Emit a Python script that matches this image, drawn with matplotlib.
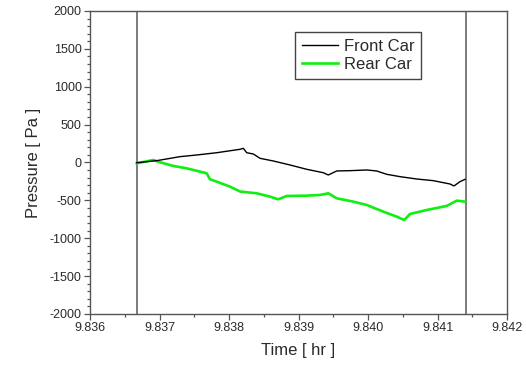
import matplotlib
matplotlib.use('Agg')
import matplotlib.pyplot as plt
from matplotlib.ticker import MultipleLocator, FormatStrFormatter

# Front car pressure trace
front_t = [9.836672, 9.836960, 9.837295, 9.837535, 9.837823, 9.838158, 9.838206,
           9.838255, 9.838350, 9.838446, 9.838637, 9.838878, 9.839118, 9.839357,
           9.839429, 9.839550, 9.839741, 9.839981, 9.840125, 9.840269, 9.840460,
           9.840701, 9.840940, 9.841180, 9.841237, 9.841324, 9.841396]
front_p = [-3, 24, 77, 99, 129, 174, 187,
           129, 112, 55, 20, -33, -90, -135,
           -165, -112, -108, -99, -112, -156, -187,
           -218, -240, -284, -310, -253, -222]

# Rear car pressure trace
rear_t = [9.836672, 9.836911, 9.837007, 9.837199, 9.837391, 9.837583, 9.837679,
          9.837727, 9.837823, 9.838014, 9.838158, 9.838399, 9.838590, 9.838709,
          9.838830, 9.839118, 9.839309, 9.839429, 9.839550, 9.839789, 9.839981,
          9.840220, 9.840413, 9.840522, 9.840604, 9.840845, 9.841132, 9.841276,
          9.841396]
rear_p = [-11, 33, 3, -46, -77, -121, -143,
          -222, -253, -319, -383, -407, -451, -486,
          -442, -438, -429, -407, -473, -517, -561,
          -649, -715, -759, -680, -627, -574, -504,
          -517]

# window markers
marker_t = [9.83667, 9.84141]

plt.rcParams['font.family'] = ['Liberation Sans', 'DejaVu Sans']
plt.rcParams['axes.unicode_minus'] = False
text_col = '#2a2a2a'
axis_col = '#555555'

fig = plt.figure(figsize=(5.26, 3.70), dpi=100)
ax = fig.add_axes([0.1711, 0.1514, 0.7928, 0.8189])

for t in marker_t:
    ax.axvline(t, color='#666666', lw=1.2, zorder=1)

ax.plot(front_t, front_p, color='black', lw=1.0, label='Front Car', zorder=3)
ax.plot(rear_t, rear_p, color='#11ee11', lw=1.9, label='Rear Car', zorder=2)

ax.set_xlim(9.836, 9.842)
ax.set_ylim(-2000, 2000)
ax.xaxis.set_major_locator(MultipleLocator(0.001))
ax.xaxis.set_minor_locator(MultipleLocator(0.0005))
ax.xaxis.set_major_formatter(FormatStrFormatter('%.3f'))
ax.yaxis.set_major_locator(MultipleLocator(500))
ax.yaxis.set_minor_locator(MultipleLocator(100))

for s in ax.spines.values():
    s.set_color(axis_col)
    s.set_linewidth(1.0)
ax.tick_params(which='both', direction='out', color=axis_col, width=0.9,
               top=False, right=False)
ax.tick_params(which='major', length=4, labelsize=9, labelcolor=text_col, pad=2)
ax.tick_params(which='minor', length=2)

ax.set_xlabel('Time [ hr ]', fontsize=12, color=text_col, labelpad=6)
ax.set_ylabel('Pressure [ Pa ]', fontsize=12, color=text_col, labelpad=6)

leg = ax.legend(loc='upper left', bbox_to_anchor=(0.4916, 0.9297), borderaxespad=0,
                fontsize=12, fancybox=False, framealpha=1, edgecolor='#444444',
                handlelength=2.2, handletextpad=0.35, labelspacing=0.2,
                borderpad=0.4)
leg.get_frame().set_linewidth(1.0)
for txt in leg.get_texts():
    txt.set_color(text_col)

fig.savefig('out.png', dpi=100)
